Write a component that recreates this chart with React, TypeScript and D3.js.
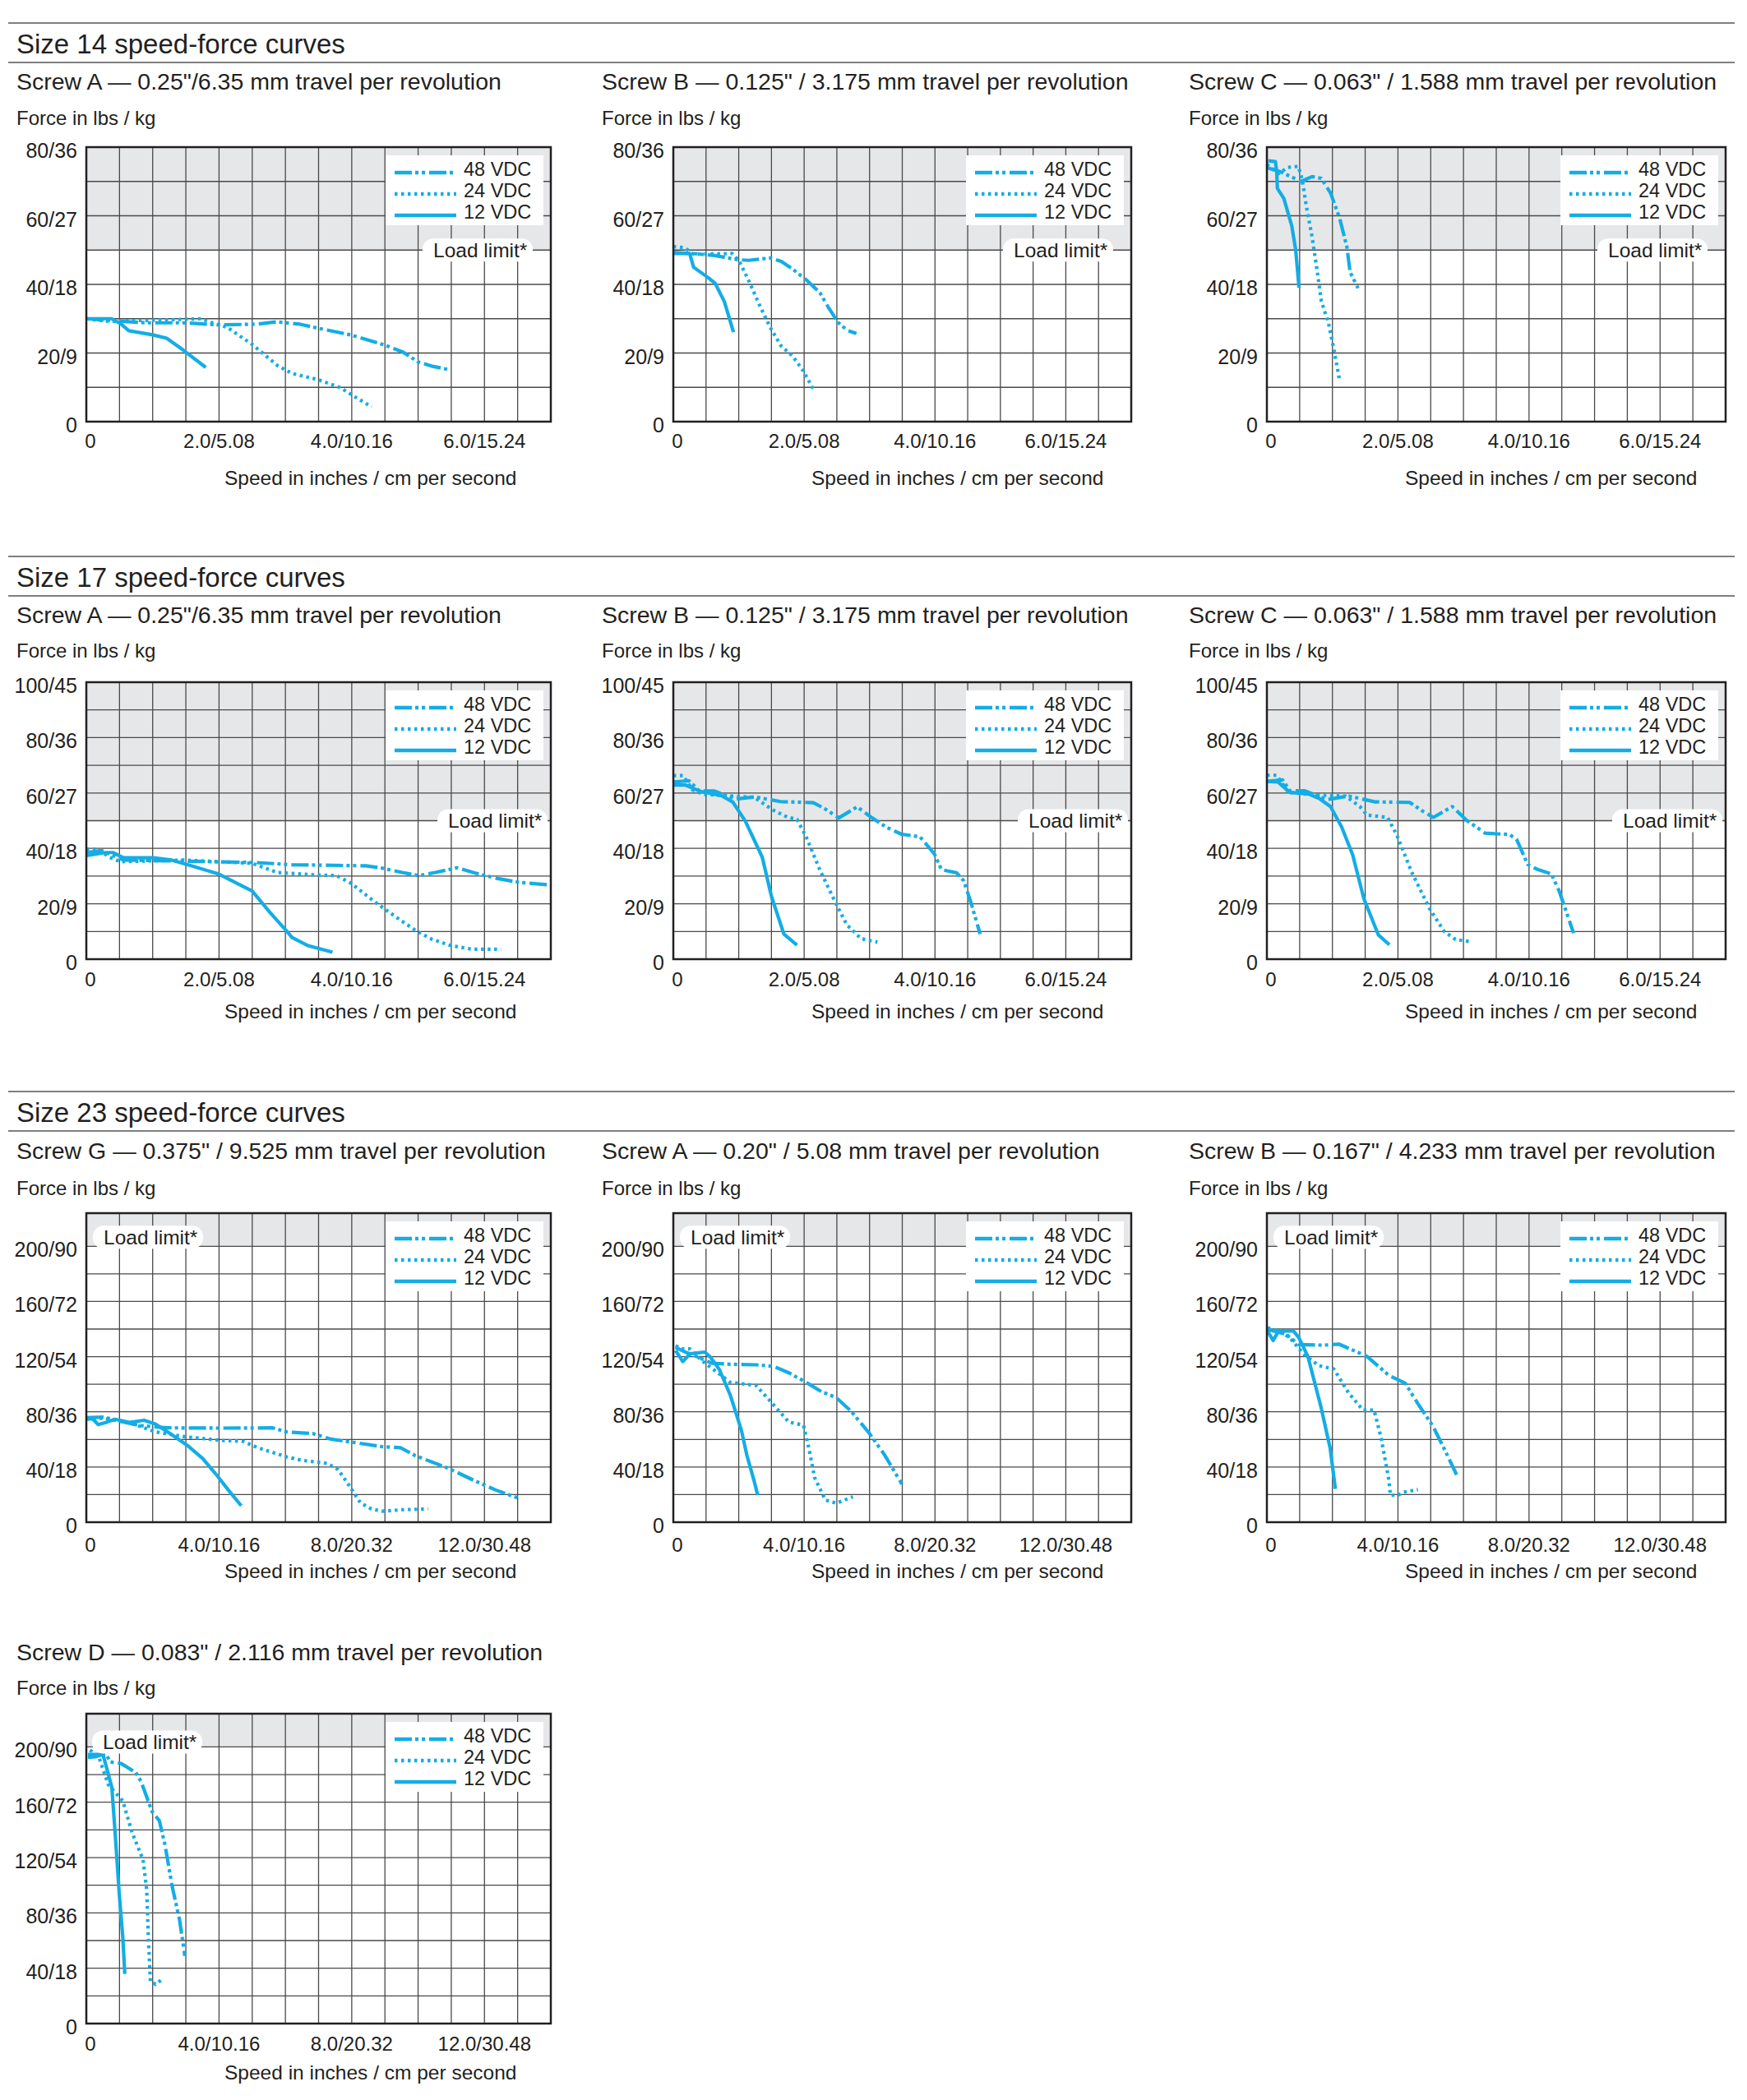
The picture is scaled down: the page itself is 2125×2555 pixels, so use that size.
import * as d3 from "d3";

type Pt = [number, number];

const TEXT = "#231f20";
const CYAN = "#14ade5";
const GRID = "#4a4a4a";
const BAND = "#e6e7e9";
const FONT = "'Liberation Sans', Arial, Helvetica, sans-serif";

const sectionTitles = [
  "Size 14 speed-force curves",
  "Size 17 speed-force curves",
  "Size 23 speed-force curves",
];
const voltages = ["48 VDC", "24 VDC", "12 VDC"];

const forceLabel = "Force in lbs / kg";
const speedLabel = "Speed in inches / cm per second";
const limitLabel = "Load limit*";

// tick labels: [value, text]
const xTicks7: [number, string][] = [
  [0, "0"],
  [2, "2.0/5.08"],
  [4, "4.0/10.16"],
  [6, "6.0/15.24"],
];
const xTicks14: [number, string][] = [
  [0, "0"],
  [4, "4.0/10.16"],
  [8, "8.0/20.32"],
  [12, "12.0/30.48"],
];
const yTicks80: [number, string][] = [
  [0, "0"],
  [20, "20/9"],
  [40, "40/18"],
  [60, "60/27"],
  [80, "80/36"],
];
const yTicks100: [number, string][] = [
  [0, "0"],
  [20, "20/9"],
  [40, "40/18"],
  [60, "60/27"],
  [80, "80/36"],
  [100, "100/45"],
];
const yTicks200: [number, string][] = [
  [0, "0"],
  [40, "40/18"],
  [80, "80/36"],
  [120, "120/54"],
  [160, "160/72"],
  [200, "200/90"],
];

// speed (in/s), force (lbs)
const s14a48: Pt[] = [[0,30],[0.46,29.3],[0.9,28.8],[1.46,28.8],[2.0,28.2],[2.56,28.4],[2.86,29.1],[3.22,28.4],[3.55,27],[4.0,25.2],[4.5,22.3],[4.77,20.3],[5.0,17.4],[5.2,16.2],[5.48,15.1]];
const s14a24: Pt[] = [[0,30],[0.3,29.3],[0.9,29.5],[1.3,29.7],[1.73,30],[1.9,28.8],[2.12,27.5],[2.5,22.5],[2.89,16.2],[3.11,14],[3.5,12.2],[3.83,9.9],[4.05,7.2],[4.3,4.3]];
const s14a12: Pt[] = [[0,30],[0.38,30],[0.52,28.5],[0.64,26.5],[1.0,25.3],[1.21,24.3],[1.45,21],[1.8,15.8]];

const s14b48: Pt[] = [[0,49],[0.3,49],[0.64,48.4],[0.98,47.2],[1.15,47],[1.49,47.7],[1.65,46.7],[1.82,44.5],[2.04,41.2],[2.24,37.6],[2.38,33],[2.52,28.9],[2.66,26.6],[2.8,25.7]];
const s14b24: Pt[] = [[0,51],[0.17,50.7],[0.31,48.8],[0.64,48.9],[0.9,49],[1.01,46.7],[1.15,41.2],[1.32,33.9],[1.48,27.5],[1.65,22],[1.82,19.2],[1.99,14.7],[2.16,8.7]];
const s14b12: Pt[] = [[0,49.3],[0.25,49],[0.31,45],[0.53,42],[0.64,40.3],[0.78,35],[0.92,26.1]];

const s14c48: Pt[] = [[0,74],[0.21,72.8],[0.52,70],[0.69,71.4],[0.83,70.9],[0.97,66.7],[1.11,59.3],[1.22,51],[1.27,43.6],[1.39,38.9]];
const s14c24: Pt[] = [[0,75],[0.18,72.3],[0.32,74.1],[0.48,74.4],[0.54,70.4],[0.6,63],[0.69,53.8],[0.77,43.6],[0.83,35.2],[0.94,28.7],[1.02,21.3],[1.11,12]];
const s14c12: Pt[] = [[0.02,76],[0.13,75.8],[0.15,73],[0.16,68],[0.26,65],[0.38,57],[0.44,50],[0.49,39]];

const s17a48: Pt[] = [[0,38.5],[0.23,39.2],[0.56,35.8],[1.45,35.4],[2.55,34.9],[3.1,34.1],[4.21,33.7],[4.43,33],[4.76,31.3],[5.01,30.2],[5.26,31.3],[5.59,33],[5.86,31.1],[6.2,29.1],[6.53,27.7],[7.0,26.8]];
const s17a24: Pt[] = [[0,39.7],[0.18,39.7],[0.34,36.9],[0.51,35.2],[1.45,35.8],[2.5,34.6],[2.88,31.3],[3.49,30.4],[3.77,30.2],[3.99,27.4],[4.38,20.1],[4.71,14.5],[4.98,10.1],[5.2,7.3],[5.48,5],[5.81,3.6],[6.25,3.6]];
const s17a12: Pt[] = [[0,37.4],[0.29,38.5],[0.4,38.5],[0.56,36.6],[1.01,36.6],[1.28,35.8],[1.61,33.5],[2.0,30.7],[2.5,24.6],[2.77,16.8],[3.02,10.1],[3.1,7.8],[3.33,5],[3.71,2.5]];

const s17b48: Pt[] = [[0,64],[0.24,64.4],[0.4,60.7],[0.63,60.7],[0.96,57.8],[1.24,58.6],[1.64,56.9],[2.14,56.5],[2.31,54.4],[2.53,51],[2.81,55],[3.04,51],[3.26,47.6],[3.49,45.1],[3.77,44.2],[3.99,38],[4.1,32.3],[4.33,31.2],[4.44,28.3],[4.55,20.4],[4.69,9.1]];
const s17b24: Pt[] = [[0,66.3],[0.15,66.3],[0.29,61.2],[0.46,59.5],[0.85,59],[1.24,58.4],[1.52,53.9],[1.75,51.2],[1.89,50.5],[2.03,44.2],[2.25,31.7],[2.48,20.4],[2.65,12.5],[2.87,7.4],[3.12,6.2]];
const s17b12: Pt[] = [[0,62.9],[0.18,62.9],[0.4,60.7],[0.74,59],[0.91,56.7],[1.1,49.9],[1.36,36.8],[1.5,22.7],[1.69,9.1],[1.89,5.1]];

const s17c48: Pt[] = [[0,64.2],[0.24,64.7],[0.35,60.8],[0.58,60.8],[0.92,57.6],[1.25,58.9],[1.65,56.8],[2.18,56.6],[2.38,53.4],[2.54,51.2],[2.83,55.1],[3.05,50.1],[3.33,45.5],[3.7,45],[3.81,43.3],[3.98,34.2],[4.12,32.5],[4.34,30.8],[4.46,24.6],[4.68,9.4]];
const s17c24: Pt[] = [[0,66.4],[0.15,66.4],[0.33,60.2],[0.75,59.3],[1.2,58.9],[1.42,55.1],[1.53,52],[1.84,51.2],[1.98,45],[2.21,31.4],[2.49,17.9],[2.71,9.9],[2.88,7.1],[3.11,6.3]];
const s17c12: Pt[] = [[0,64.2],[0.17,64],[0.35,60.2],[0.63,59.7],[0.8,58],[0.97,55.1],[1.14,47.8],[1.31,37.6],[1.48,21.8],[1.7,8.8],[1.87,5.2]];

const s23g48: Pt[] = [[0,75.7],[0.53,76.2],[0.97,73.4],[1.63,70],[2.41,68.4],[4.06,68.2],[5.61,68.4],[6.05,65.4],[6.82,64.3],[7.37,60.2],[8.04,57.9],[8.92,54.7],[9.47,54],[9.91,48.3],[10.9,39.2],[11.7,30.1],[12.34,23.3],[13.0,17.6]];
const s23g24: Pt[] = [[0,74.6],[0.42,75.3],[0.75,74.6],[1.41,71.2],[2.08,65.5],[2.96,62],[4.06,59.3],[4.72,58.6],[5.17,54],[6.05,47.2],[6.49,44.9],[7.26,42.6],[7.59,38.1],[7.92,26.7],[8.26,14.1],[8.59,9.6],[8.92,8],[9.58,9.1],[10.3,9.6]];
const s23g12: Pt[] = [[0,75.3],[0.2,74.6],[0.36,70.7],[0.58,72.3],[0.86,74.6],[1.3,72.3],[1.74,73.9],[2.08,71.2],[2.52,64.3],[3.07,55.2],[3.51,46.1],[3.95,33.5],[4.28,23.3],[4.67,11.9]];

const s23a48: Pt[] = [[0.07,126.7],[0.4,123],[0.74,119.8],[1.18,115.2],[1.74,114.5],[2.53,114.1],[3.08,112.9],[3.53,108.3],[3.98,102.5],[4.54,94.5],[4.98,90.3],[5.43,80.6],[5.99,64.5],[6.44,49.5],[6.99,27.6]];
const s23a24: Pt[] = [[0.07,127.9],[0.29,125.6],[0.51,125.6],[0.85,117.5],[1.3,109.4],[1.74,101.4],[2.53,99.1],[2.97,87.6],[3.53,72.6],[3.98,70.3],[4.15,53],[4.32,32.3],[4.65,16.1],[4.98,13.8],[5.49,18.4]];
const s23a12: Pt[] = [[0.07,124.4],[0.29,116.4],[0.51,122.1],[0.96,123.3],[1.13,119.8],[1.41,110.6],[1.74,92.2],[2.08,66.8],[2.25,48.4],[2.47,30],[2.58,19.6]];

const s23b48: Pt[] = [[0.02,139.7],[0.58,136.3],[0.97,128.8],[1.7,128.3],[2.21,129],[3.05,120.3],[3.72,106.5],[4.22,100.8],[4.61,85.9],[5.06,69.9],[5.4,53.8],[5.79,34.4]];
const s23b24: Pt[] = [[0.02,140.9],[0.36,138.6],[0.69,134],[1.14,121.4],[1.59,113.4],[2.04,111.1],[2.49,93.9],[2.93,81.3],[3.27,81.3],[3.49,60.7],[3.72,30.9],[3.77,19.5],[4.0,19.5],[4.17,21.8],[4.61,23.6]];
const s23b12: Pt[] = [[0.02,138.6],[0.19,131.7],[0.36,138.6],[0.81,138.6],[0.97,134],[1.25,120.3],[1.65,83.6],[1.93,53.8],[2.09,24.1]];

const s23d48: Pt[] = [[0.05,194.6],[0.6,194.6],[0.72,189.1],[1.05,188],[1.49,181.5],[1.65,175],[1.98,153.3],[2.2,146.7],[2.37,129.3],[2.59,98.9],[2.81,75],[2.97,48.9]];
const s23d24: Pt[] = [[0.11,197.8],[0.38,192.5],[0.66,172.8],[1.1,160.9],[1.38,138],[1.71,118.5],[1.82,96.7],[1.87,62],[1.93,30.4],[2.09,28.3],[2.31,32.6]];
const s23d12: Pt[] = [[0.05,192.4],[0.27,192.8],[0.5,194.6],[0.6,185.9],[0.77,170.7],[0.88,133.7],[0.99,94.6],[1.1,62],[1.16,35.9]];

// axis setups per frame size
const axes = {
  s14: { xMax: 7, xStep: 0.5, yMax: 80, yStep: 10, yGridMax: 80, limit: 50, xTicks: xTicks7, yTicks: yTicks80 },
  s17: { xMax: 7, xStep: 0.5, yMax: 100, yStep: 10, yGridMax: 100, limit: 50, xTicks: xTicks7, yTicks: yTicks100 },
  s23: { xMax: 14, xStep: 1, yMax: 224, yStep: 20, yGridMax: 200, limit: 200, xTicks: xTicks14, yTicks: yTicks200 },
};

// page layout
const colText = [20, 732, 1446];
const colLeft = [105, 819, 1541];
const colRight = [670, 1376, 2099];
const rows = [
  { rule: 28, top: 179, bottom: 513, sub: 109, force: 152, xtick: 545, xtitle: 590, limitSide: "right", limitInset: 22, limitDy: 0 },
  { rule: 677, top: 830, bottom: 1167, sub: 758, force: 800, xtick: 1200, xtitle: 1239, limitSide: "right", limitInset: 4, limitDy: 0 },
  { rule: 1328, top: 1476, bottom: 1852, sub: 1410, force: 1454, xtick: 1888, xtitle: 1920, limitSide: "left", limitInset: 8, limitDy: -11 },
  { rule: -1, top: 2085, bottom: 2462, sub: 2020, force: 2062, xtick: 2495, xtitle: 2530, limitSide: "left", limitInset: 7, limitDy: -6 },
];

const panels = [
  { row: 0, col: 0, axis: axes.s14, title: 'Screw A — 0.25"/6.35 mm travel per revolution', series: [s14a48, s14a24, s14a12] },
  { row: 0, col: 1, axis: axes.s14, title: 'Screw B — 0.125" / 3.175 mm travel per revolution', series: [s14b48, s14b24, s14b12] },
  { row: 0, col: 2, axis: axes.s14, title: 'Screw C — 0.063" / 1.588 mm travel per revolution', series: [s14c48, s14c24, s14c12] },
  { row: 1, col: 0, axis: axes.s17, title: 'Screw A — 0.25"/6.35 mm travel per revolution', series: [s17a48, s17a24, s17a12] },
  { row: 1, col: 1, axis: axes.s17, title: 'Screw B — 0.125" / 3.175 mm travel per revolution', series: [s17b48, s17b24, s17b12] },
  { row: 1, col: 2, axis: axes.s17, title: 'Screw C — 0.063" / 1.588 mm travel per revolution', series: [s17c48, s17c24, s17c12] },
  { row: 2, col: 0, axis: axes.s23, title: 'Screw G — 0.375" / 9.525 mm travel per revolution', series: [s23g48, s23g24, s23g12] },
  { row: 2, col: 1, axis: axes.s23, title: 'Screw A — 0.20" / 5.08 mm travel per revolution', series: [s23a48, s23a24, s23a12] },
  { row: 2, col: 2, axis: axes.s23, title: 'Screw B — 0.167" / 4.233 mm travel per revolution', series: [s23b48, s23b24, s23b12] },
  { row: 3, col: 0, axis: axes.s23, title: 'Screw D — 0.083" / 2.116 mm travel per revolution', series: [s23d48, s23d24, s23d12] },
];

// 48 V dash-dot-dot, 24 V dotted, 12 V solid
const dashes = ["21 4 4 4 4 5", "3.5 4.5", "none"];

type PanelCfg = (typeof panels)[number];

function Panel({ cfg }: { cfg: PanelCfg }) {
  const r = rows[cfg.row];
  const a = cfg.axis;
  const left = colLeft[cfg.col];
  const right = colRight[cfg.col];
  const x = d3.scaleLinear().domain([0, a.xMax]).range([left, right]);
  const y = d3.scaleLinear().domain([0, a.yMax]).range([r.bottom, r.top]);
  const line = d3
    .line<Pt>()
    .x((d) => x(d[0]))
    .y((d) => y(d[1]));

  const xGrid = d3.range(a.xStep, a.xMax, a.xStep);
  const yGrid = d3.range(a.yStep, a.yGridMax + 0.001, a.yStep);

  const limY = y(a.limit);
  const boxW = 134;
  const boxH = 28;
  const boxX = r.limitSide === "right" ? right - r.limitInset - boxW : left + r.limitInset;
  const boxCy = limY + r.limitDy;

  const legX = right - 201;
  const legY = r.top + 10;

  return (
    <g>
      <text x={colText[cfg.col]} y={r.sub} fontSize={28.5} fill={TEXT}>
        {cfg.title}
      </text>
      <text x={colText[cfg.col]} y={r.force} fontSize={24} fill={TEXT}>
        {forceLabel}
      </text>

      {/* no-go zone above the load limit */}
      <rect x={left} y={r.top} width={right - left} height={limY - r.top} fill={BAND} />

      {xGrid.map((v) => (
        <line key={"x" + v} x1={x(v)} x2={x(v)} y1={r.top} y2={r.bottom} stroke={GRID} strokeWidth={1.3} />
      ))}
      {yGrid.map((v) => (
        <line key={"y" + v} x1={left} x2={right} y1={y(v)} y2={y(v)} stroke={GRID} strokeWidth={1.3} />
      ))}

      {cfg.series.map((pts, i) => (
        <path
          key={i}
          d={line(pts) ?? ""}
          fill="none"
          stroke={CYAN}
          strokeWidth={4.2}
          strokeDasharray={dashes[i]}
          strokeLinejoin="round"
        />
      ))}

      {/* legend */}
      <rect x={legX} y={legY} width={192} height={85} fill="#fff" />
      {voltages.map((v, i) => (
        <g key={v}>
          <line
            x1={right - 190}
            x2={right - 115}
            y1={r.top + 31 + 26 * i}
            y2={r.top + 31 + 26 * i}
            stroke={CYAN}
            strokeWidth={4.5}
            strokeDasharray={dashes[i]}
          />
          <text x={right - 106} y={r.top + 35 + 26 * i} fontSize={23.5} fill={TEXT}>
            {v}
          </text>
        </g>
      ))}

      <rect x={boxX} y={boxCy - boxH / 2} width={boxW} height={boxH} rx={13} fill="#fff" />
      <text x={boxX + 13} y={boxCy + 8.5} fontSize={24.5} fill={TEXT}>
        {limitLabel}
      </text>

      <rect x={left} y={r.top} width={right - left} height={r.bottom - r.top} fill="none" stroke={TEXT} strokeWidth={2.5} />

      {a.yTicks.map(([v, t]) => (
        <text key={t} x={left - 11} y={y(v) + 13} fontSize={25} fill={TEXT} textAnchor="end">
          {t}
        </text>
      ))}
      {a.xTicks.map(([v, t]) => (
        <text key={t} x={x(v) + (v === 0 ? 5 : 0)} y={r.xtick} fontSize={24} fill={TEXT} textAnchor="middle">
          {t}
        </text>
      ))}
      <text x={left + 168} y={r.xtitle} fontSize={24.5} fill={TEXT}>
        {speedLabel}
      </text>
    </g>
  );
}

export default function App() {
  return (
    <svg
      width={2125}
      height={2555}
      style={{ position: "absolute", left: 0, top: 0, background: "#fff" }}
      fontFamily={FONT}
    >
      {sectionTitles.map((t, i) => (
        <g key={t}>
          <line x1={10} x2={2110} y1={rows[i].rule} y2={rows[i].rule} stroke="#555" strokeWidth={1.5} />
          <text x={20} y={rows[i].rule + 37} fontSize={33} fill={TEXT}>
            {t}
          </text>
          <line x1={10} x2={2110} y1={rows[i].rule + 48} y2={rows[i].rule + 48} stroke="#555" strokeWidth={1.5} />
        </g>
      ))}
      {panels.map((p, i) => (
        <Panel key={i} cfg={p} />
      ))}
    </svg>
  );
}
